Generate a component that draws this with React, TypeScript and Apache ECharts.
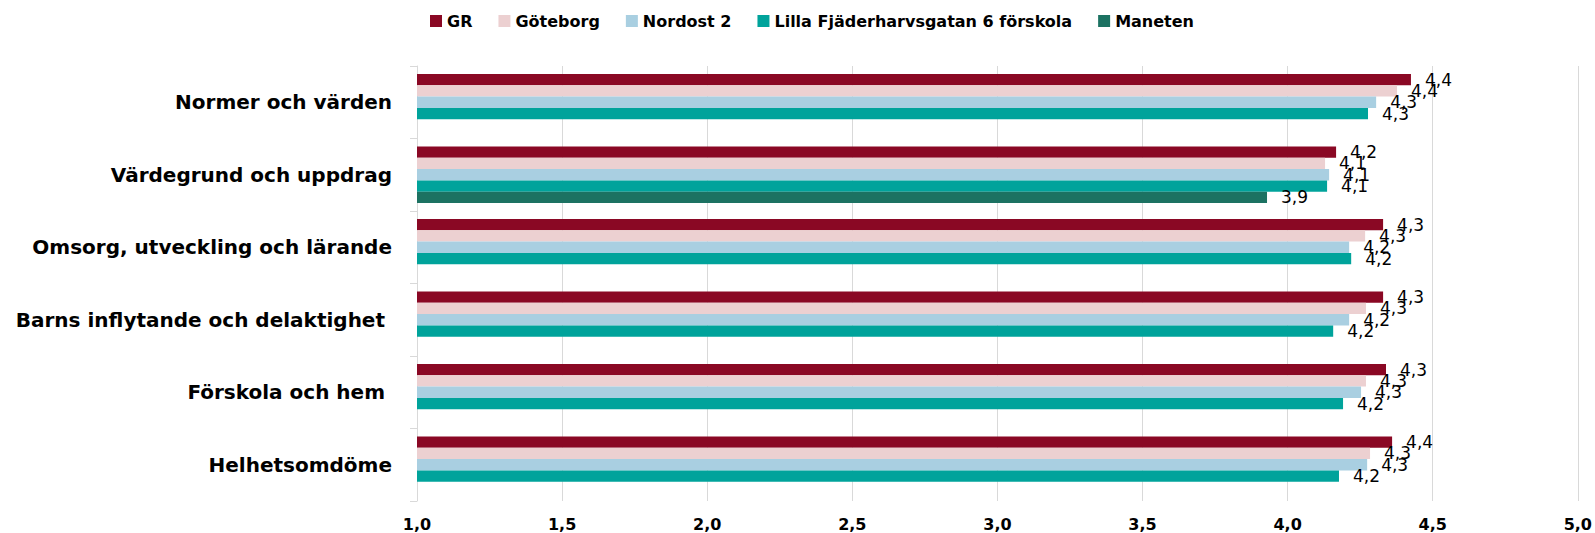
import React, { useEffect, useRef } from "react";
import * as echarts from "echarts";

const categories = [
  "Normer och värden",
  "Värdegrund och uppdrag",
  "Omsorg, utveckling och lärande",
  "Barns inflytande och delaktighet ",
  "Förskola och hem ",
  "Helhetsomdöme",
];

const seriesNames = ["GR", "Göteborg", "Nordost 2", "Lilla Fjäderharvsgatan 6 förskola", "Maneten"];

const grValues = [4.425, 4.167, 4.329, 4.329, 4.339, 4.36];
const goteborgValues = [4.377, 4.129, 4.267, 4.27, 4.27, 4.284];
const nordostValues = [4.305, 4.143, 4.212, 4.212, 4.253, 4.274];
const lillaValues = [4.277, 4.136, 4.219, 4.157, 4.191, 4.177];
const manetenValues: (number | null)[] = [null, 3.929, null, null, null, null];

const seriesColors = ["#8A0824", "#ECD0D1", "#A9CFE1", "#00A39B", "#1C7262"];

const xMin = 1;
const xMax = 5;
const xInterval = 0.5;

const FONT = "DejaVu Sans";

const fmt = (v: number) => v.toFixed(1).replace(".", ",");

export default function App() {
  const ref = useRef<HTMLDivElement>(null);

  useEffect(() => {
    if (!ref.current) return;
    const chart = echarts.init(ref.current, undefined, { renderer: "svg" });
    const allValues = [grValues, goteborgValues, nordostValues, lillaValues, manetenValues];
    chart.setOption({
      animation: false,
      legend: {
        data: seriesNames,
        left: 425,
        top: 8,
        icon: "rect",
        itemWidth: 12,
        itemHeight: 12,
        itemGap: 26,
        textStyle: { fontFamily: FONT, fontSize: 16, fontWeight: "bold", color: "#000" },
      },
      grid: { left: 417, right: 16, top: 66, bottom: 32, containLabel: false },
      xAxis: {
        type: "value",
        min: xMin,
        max: xMax,
        interval: xInterval,
        axisLine: { show: false },
        axisTick: { show: false },
        splitLine: { show: true, lineStyle: { color: "#d9d9d9", width: 1 } },
        axisLabel: {
          formatter: (v: number) => fmt(v),
          fontFamily: FONT,
          fontSize: 16,
          fontWeight: "bold",
          color: "#000",
          margin: 15,
        },
      },
      yAxis: {
        type: "category",
        inverse: true,
        data: categories,
        axisLine: { show: true, lineStyle: { color: "#d9d9d9", width: 1 } },
        axisTick: { show: true, length: 7, lineStyle: { color: "#d9d9d9" } },
        axisLabel: {
          margin: 25,
          fontFamily: FONT,
          fontSize: 20,
          fontWeight: "bold",
          color: "#000",
          formatter: (v: string) => (v.endsWith(" ") ? `{s|${v.trim()}}` : v),
          rich: {
            s: {
              fontFamily: FONT,
              fontSize: 20,
              fontWeight: "bold",
              color: "#000",
              padding: [0, 7, 0, 0],
            },
          },
        },
      },
      series: seriesNames.map((name, i) => ({
        name,
        type: "bar",
        data: allValues[i],
        barGap: "0%",
        barCategoryGap: "22%",
        itemStyle: { color: seriesColors[i] },
        label: {
          show: true,
          position: "right",
          distance: 14,
          fontFamily: FONT,
          fontSize: 17,
          color: "#000",
          formatter: (p: any) => (p.value == null ? "" : fmt(p.value)),
        },
      })),
    });
    return () => chart.dispose();
  }, []);

  return (
    <div
      ref={ref}
      style={{ position: "absolute", left: 0, top: 0, width: 1595, height: 533 }}
    />
  );
}
